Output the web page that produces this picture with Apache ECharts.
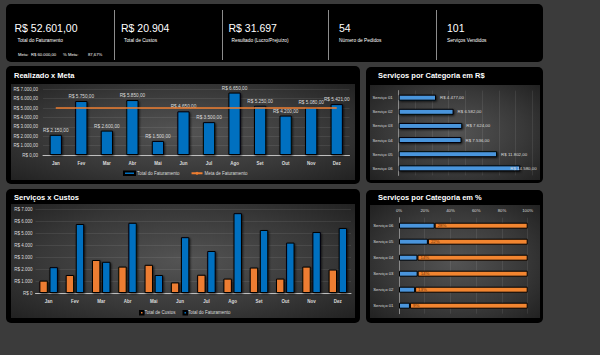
<!DOCTYPE html>
<html><head><meta charset="utf-8">
<script src="https://cdn.jsdelivr.net/npm/echarts@6/dist/echarts.min.js"></script>
<style>
html,body{margin:0;padding:0;width:600px;height:355px;overflow:hidden;background:#3b3b3b;font-family:'Liberation Sans',Arial,sans-serif;}
.panel{position:absolute;background:#000;border-radius:5px;}
.inner{position:absolute;background:radial-gradient(ellipse 75% 80% at 50% 50%, #545454 0%, #383838 55%, #1c1c1c 100%);}
.title{position:absolute;color:#fff;font-weight:bold;font-size:7.5px;line-height:8px;white-space:nowrap;}
.kv{position:absolute;color:#fff;font-size:10.5px;line-height:12px;white-space:nowrap;}
.kl{position:absolute;color:#fff;font-size:4.8px;line-height:6px;white-space:nowrap;}
.km{position:absolute;color:#fff;font-size:4.2px;line-height:5px;white-space:nowrap;}
.dv{position:absolute;width:1px;background:#8c8c8c;top:10px;height:50px;}
#chart{position:absolute;left:0;top:0;width:600px;height:355px;}
</style></head>
<body>
<div class="panel" style="left:6px;top:4px;width:537px;height:58px;"></div>
<div class="dv" style="left:114px"></div>
<div class="dv" style="left:222px"></div>
<div class="dv" style="left:328px"></div>
<div class="dv" style="left:436px"></div>
<div class="kv" style="left:14.5px;top:22px;">R$ 52.601,00</div>
<div class="kl" style="left:17.5px;top:37.7px;">Total do Faturamento</div>
<div class="km" style="left:18px;top:52px;">Meta:</div>
<div class="km" style="left:31px;top:52px;">R$ 60.000,00</div>
<div class="km" style="left:63px;top:52px;">% Meta:</div>
<div class="km" style="left:88px;top:52px;">87,67%</div>
<div class="kv" style="left:121px;top:22px;">R$ 20.904</div>
<div class="kl" style="left:124px;top:37.7px;">Total de Custos</div>
<div class="kv" style="left:228.5px;top:22px;">R$ 31.697</div>
<div class="kl" style="left:231.5px;top:37.7px;">Resultado (Lucro/Prejuízo)</div>
<div class="kv" style="left:339px;top:22px;">54</div>
<div class="kl" style="left:339px;top:37.7px;">Número de Pedidos</div>
<div class="kv" style="left:447px;top:22px;">101</div>
<div class="kl" style="left:447px;top:37.7px;">Serviços Vendidos</div>

<div class="panel" style="left:6px;top:66px;width:354px;height:118px;"></div>
<div class="inner" style="left:11px;top:84px;width:344px;height:96px;"></div>
<div class="title" style="left:14px;top:72px;">Realizado x Meta</div>

<div class="panel" style="left:6px;top:189px;width:354px;height:134px;"></div>
<div class="inner" style="left:11px;top:204px;width:344px;height:114px;"></div>
<div class="title" style="left:14px;top:194px;">Serviços x Custos</div>

<div class="panel" style="left:366px;top:67px;width:177px;height:116px;"></div>
<div class="inner" style="left:370px;top:85px;width:170px;height:95px;"></div>
<div class="title" style="left:378px;top:72px;">Serviços por Categoria em R$</div>

<div class="panel" style="left:366px;top:190px;width:177px;height:133px;"></div>
<div class="inner" style="left:370px;top:205px;width:170px;height:113px;"></div>
<div class="title" style="left:378px;top:194px;">Serviços por Categoria em %</div>

<div id="chart"></div>
<script>
const months = ['Jan','Fev','Mar','Abr','Mai','Jun','Jul','Ago','Set','Out','Nov','Dez'];
const faturamento = [2150,5750,2600,5850,1500,4650,3500,6650,5250,4200,5080,5421];
const metaFaturamento = [5000,5000,5000,5000,5000,5000,5000,5000,5000,5000,5000,5000];
const custos = [1030,1500,2750,2200,2350,880,1520,1200,2120,1200,2200,1954];
const servicos = ['Serviço 01','Serviço 02','Serviço 03','Serviço 04','Serviço 05','Serviço 06'];
const servicosValor = [4477,6582,7624,7536,11802,14580];
const servicosPct = [8.51,12.51,14.49,14.33,22.44,27.72];
const servicosRestoPct = [91.49,87.49,85.51,85.67,77.56,72.28];

function fmtInt(n){ return String(Math.round(n)).replace(/\B(?=(\d{3})+(?!\d))/g,'.'); }
function brl2(v){ return 'R$ ' + fmtInt(v) + ',00'; }
function brl0(v){ return 'R$ ' + fmtInt(v); }

const TXT = '#dcdcdc';
const FONT = "'Liberation Sans', Arial, sans-serif";
const split = {show:true, lineStyle:{color:'rgba(255,255,255,0.08)', width:1}};
const shadow = {shadowBlur:2, shadowColor:'rgba(0,0,0,0.7)', shadowOffsetX:1, shadowOffsetY:1};

const chart = echarts.init(document.getElementById('chart'), null, {renderer:'svg'});
chart.setOption({
  backgroundColor:'transparent',
  animation:false,
  textStyle:{fontFamily:FONT},
  grid:[
    {left:43, top:89.3, width:306.5, height:65.7},
    {left:35.5, top:209, width:315.5, height:84},
    {left:398.7, top:90.6, width:133.4, height:84.8},
    {left:399, top:217.7, width:128.7, height:96}
  ],
  legend:[
    {left:123, top:170.5, itemWidth:11, itemHeight:3.5, itemGap:11, padding:0,
     textStyle:{color:TXT, fontSize:4.5, fontFamily:FONT, padding:[0,0,0,-3]},
     data:[{name:'Total do Faturamento', icon:'rect'}, {name:'Meta de Faturamento'}]},
    {left:139, top:310, itemWidth:3.5, itemHeight:3.5, itemGap:7, padding:0,
     textStyle:{color:TXT, fontSize:4.5, fontFamily:FONT, padding:[0,0,0,-4]},
     data:[{name:'Total de Custos', icon:'rect'}, {name:'Total do Faturamento ', icon:'rect'}]}
  ],
  xAxis:[
    {gridIndex:0, type:'category', data:months,
     axisLine:{lineStyle:{color:'#bfbfbf'}}, axisTick:{show:false},
     axisLabel:{color:TXT, fontSize:4.5, margin:6, fontWeight:'bold'}},
    {gridIndex:1, type:'category', data:months,
     axisLine:{lineStyle:{color:'#bfbfbf'}}, axisTick:{show:false},
     axisLabel:{color:TXT, fontSize:4.5, margin:6, fontWeight:'bold'}},
    {gridIndex:2, type:'value', min:0, max:16000, interval:2000,
     axisLine:{show:false}, axisTick:{show:false}, axisLabel:{show:false}, splitLine:split},
    {gridIndex:3, type:'value', position:'top', min:0, max:100, interval:20,
     axisLine:{show:false}, axisTick:{show:false}, splitLine:split,
     axisLabel:{color:TXT, fontSize:4.3, margin:5, formatter:'{value}%'}}
  ],
  yAxis:[
    {gridIndex:0, type:'value', min:0, max:7000, interval:1000,
     axisLine:{show:false}, axisTick:{show:false}, splitLine:split,
     axisLabel:{color:TXT, fontSize:4.5, margin:5, formatter:brl2}},
    {gridIndex:1, type:'value', min:0, max:7000, interval:1000,
     axisLine:{show:false}, axisTick:{show:false}, splitLine:split,
     axisLabel:{color:TXT, fontSize:4.5, margin:3, formatter:brl0}},
    {gridIndex:2, type:'category', data:servicos, inverse:true,
     axisLine:{show:true, lineStyle:{color:'#8a8a8a'}}, axisTick:{show:false},
     axisLabel:{color:TXT, fontSize:4.3, margin:6}},
    {gridIndex:3, type:'category', data:servicos,
     axisLine:{show:true, lineStyle:{color:'#8a8a8a'}}, axisTick:{show:false},
     axisLabel:{color:TXT, fontSize:4.3, margin:5.5}}
  ],
  series:[
    {name:'Total do Faturamento', type:'bar', xAxisIndex:0, yAxisIndex:0, data:faturamento,
     barWidth:'48%', itemStyle:Object.assign({color:'#0070C0', borderColor:'#000', borderWidth:1}, shadow),
     label:{show:true, position:'top', distance:2, color:TXT, fontSize:4.7, formatter:p=>brl2(p.value)}},
    {name:'Meta de Faturamento', type:'line', xAxisIndex:0, yAxisIndex:0, data:metaFaturamento,
     symbol:'none', itemStyle:{color:'#ED7D31'}, lineStyle:{color:'#ED7D31', width:1.6}},
    {name:'Total de Custos', type:'bar', xAxisIndex:1, yAxisIndex:1, data:custos,
     barWidth:'32%', barGap:'20%',
     itemStyle:Object.assign({color:'#ED7D31', borderColor:'#000', borderWidth:1}, shadow)},
    {name:'Total do Faturamento ', type:'bar', xAxisIndex:1, yAxisIndex:1, data:faturamento,
     barWidth:'32%', barGap:'20%',
     itemStyle:Object.assign({color:'#0070C0', borderColor:'#000', borderWidth:1}, shadow)},
    {name:'Serviços R$', type:'bar', xAxisIndex:2, yAxisIndex:2,
     data:servicosValor.map((v,i)=> i===servicosValor.length-1 ? {value:v, label:{offset:[-14,0]}} : v),
     barWidth:6, itemStyle:Object.assign({color:'#4a95dc', borderColor:'#000', borderWidth:1}, shadow),
     label:{show:true, position:'right', distance:4, color:TXT, fontSize:4.4, formatter:p=>brl2(p.value)}},
    {name:'Serviços %', type:'bar', xAxisIndex:3, yAxisIndex:3, stack:'pct', data:servicosPct,
     barWidth:6, itemStyle:{color:'#4a95dc', borderColor:'#000', borderWidth:1}},
    {name:'Resto %', type:'bar', xAxisIndex:3, yAxisIndex:3, stack:'pct', data:servicosRestoPct,
     barWidth:6, itemStyle:{color:'#F28530', borderColor:'#000', borderWidth:1},
     label:{show:true, position:'insideLeft', distance:3, color:'#6b2e05', fontSize:4.4,
            formatter:p=>Math.round(servicosPct[p.dataIndex])+'%'}}
  ]
});
</script>
</body></html>
